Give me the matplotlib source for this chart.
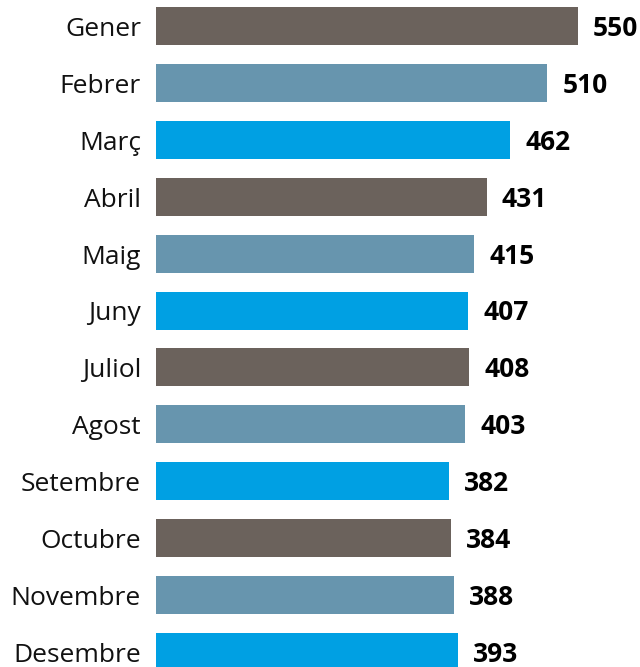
import matplotlib
matplotlib.use("Agg")
import matplotlib.pyplot as plt

months = ["Gener", "Febrer", "Març", "Abril", "Maig", "Juny", "Juliol",
          "Agost", "Setembre", "Octubre", "Novembre", "Desembre"]
values = [550, 510, 462, 431, 415, 407, 408, 403, 382, 384, 388, 393]
palette = ["#6b625c", "#6795ae", "#00a0e3"]

plt.rcParams['font.family'] = ['Open Sans', 'DejaVu Sans']

W, H = 640, 667
fig = plt.figure(figsize=(W / 100, H / 100), dpi=100)
ax = fig.add_axes([0, 0, 1, 1])

x0_px = 156
px_per_unit = 422 / 550
y0_px = 26
step_px = 56.9
PT = 0.72  # points per pixel at 100 dpi

colors = [palette[i % 3] for i in range(len(values))]
ypos = list(range(len(values)))
ax.barh(ypos, values, height=38 / step_px, color=colors)

ax.set_xlim(-x0_px / px_per_unit, (W - x0_px) / px_per_unit)
ax.set_ylim((H - y0_px) / step_px, -y0_px / step_px)

for y, v in zip(ypos, values):
    ax.annotate(str(v), (v, y), xytext=(15 * PT, -10 * PT), textcoords='offset points',
                ha='left', va='baseline', fontsize=19, fontweight='bold', color='black')
    ax.annotate(months[y], (0, y), xytext=(-15 * PT, -10 * PT), textcoords='offset points',
                ha='right', va='baseline', fontsize=19, color='#111111')

ax.axis('off')
fig.savefig("out.png", dpi=100)
